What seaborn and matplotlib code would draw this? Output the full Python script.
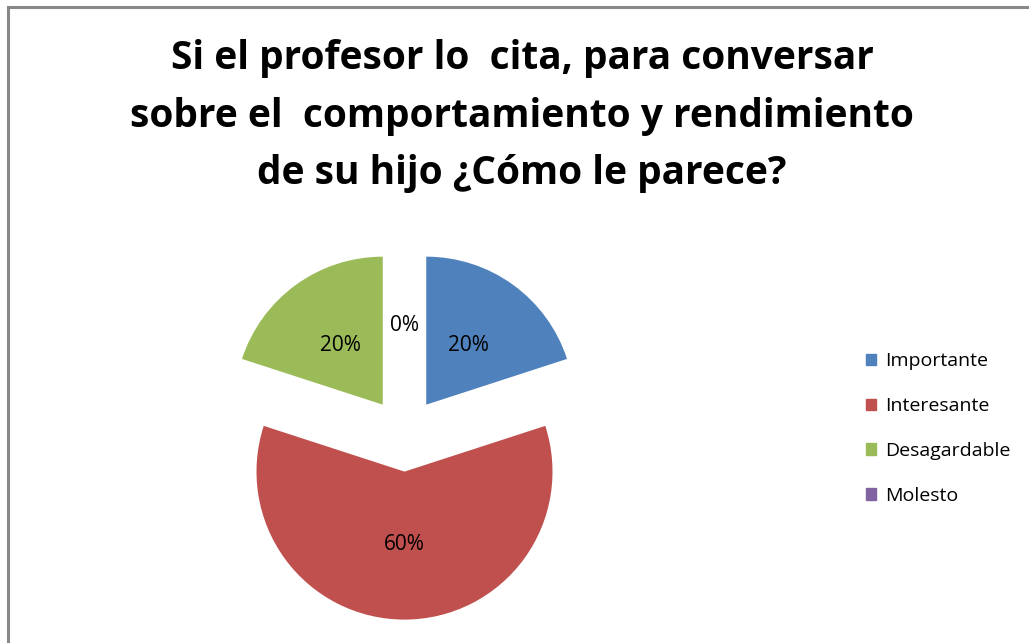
import numpy as np
import matplotlib.pyplot as plt
import matplotlib.patches as mpatches
import seaborn as sns

# data
categories = ['Importante', 'Interesante', 'Desagardable', 'Molesto']
values = [20, 60, 20, 0]
colors = ['#4F81BD', '#C0504D', '#9BBB59', '#8064A2']
title = 'Si el profesor lo  cita, para conversar\nsobre el  comportamiento y rendimiento\nde su hijo ¿Cómo le parece?'

sns.set_theme(style='white')
plt.rcParams['font.family'] = ['Open Sans', 'DejaVu Sans']
plt.rcParams['text.color'] = 'black'

W, H = 1029, 643
fig = plt.figure(figsize=(W / 100, H / 100), dpi=100)

# pie axes: centre at (404.5, 434.6) px, radius 148 px
r = 148
cx, cy = 404.5, H - 434.6
lim = 1.4
ax = fig.add_axes([(cx - lim * r) / W, (cy - lim * r) / H, 2 * lim * r / W, 2 * lim * r / H])

pal = sns.color_palette(colors)
wedges, texts, autotexts = ax.pie(
    values, colors=pal, startangle=90, counterclock=False,
    explode=[0.25] * len(values), autopct='%1.0f%%', pctdistance=0.49,
    wedgeprops=dict(linewidth=0), textprops=dict(fontsize=15, color='black'))
ax.set_xlim(-lim, lim)
ax.set_ylim(-lim, lim)
ax.set_aspect('equal')
ax.axis('off')

fig.text(522 / W, 1 - 116 / H, title, ha='center', va='center', fontsize=28,
         fontweight='bold', linespacing=1.62, color='black')

handles = [mpatches.Patch(color=c, label=l) for c, l in zip(pal, categories)]
fig.legend(handles=handles, loc='upper left', bbox_to_anchor=(848 / W, 1 - 335 / H),
           frameon=False, fontsize=14, handlelength=0.55, handleheight=0.55,
           handletextpad=0.45, labelspacing=1.38, labelcolor='black')

# chart border (only top/left visible in the crop)
border = mpatches.Rectangle((7.5 / W, -0.1), 1.2, 1 - 7.5 / H + 0.1, transform=fig.transFigure,
                            fill=False, edgecolor='#888888', linewidth=2.2, clip_on=False)
fig.patches.append(border)

fig.savefig('out.png', dpi=100, facecolor='white')
